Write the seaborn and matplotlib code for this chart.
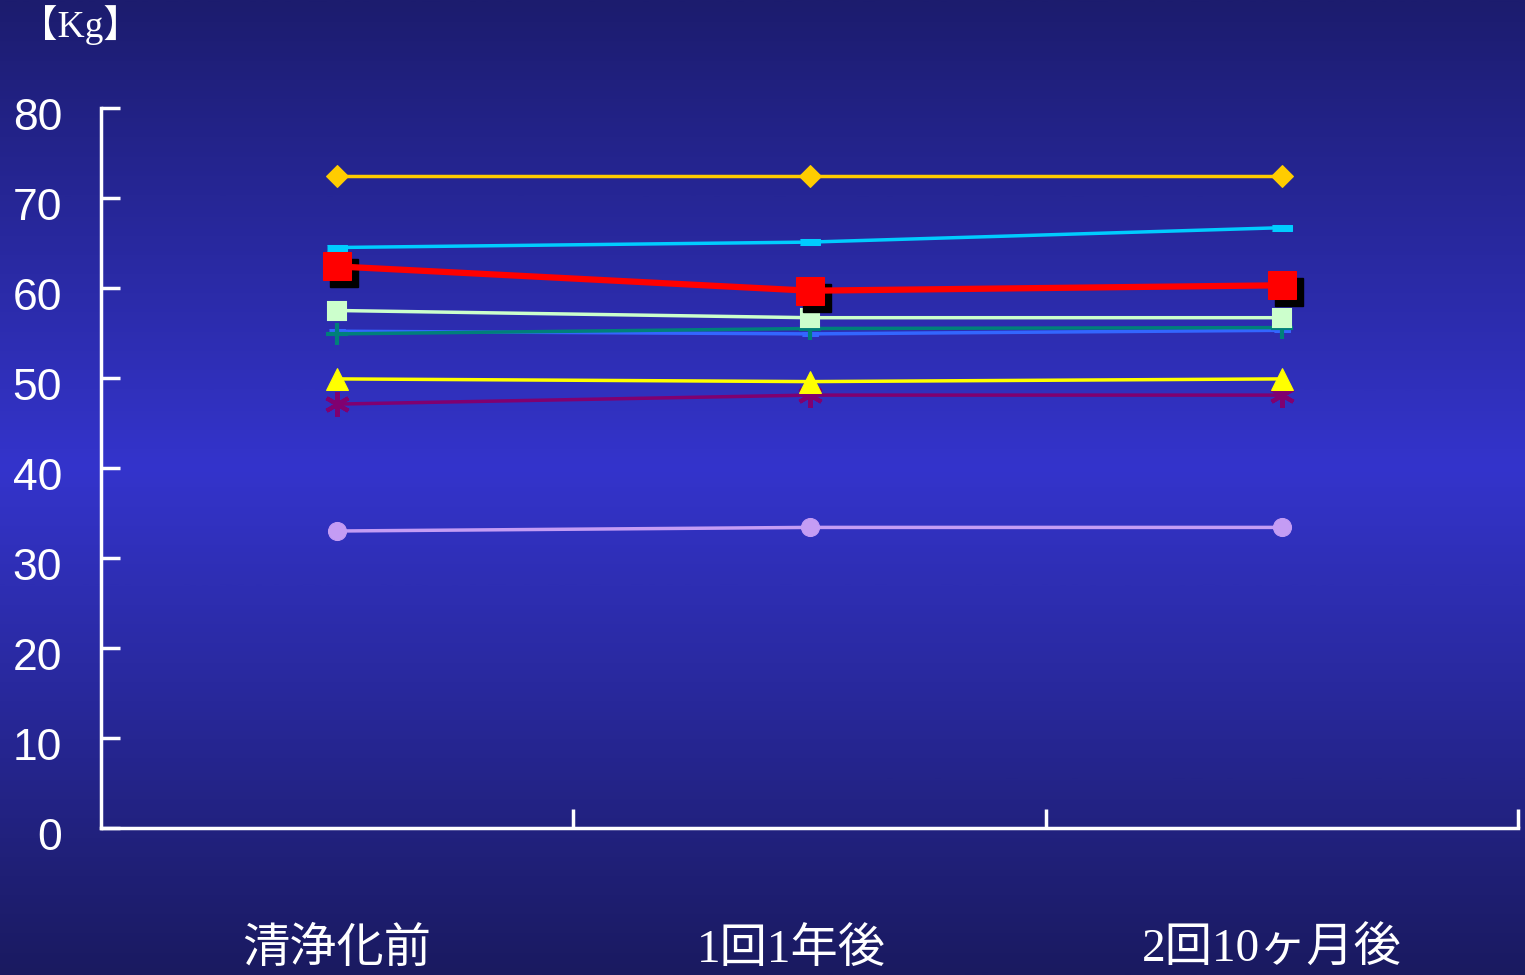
import numpy as np
import matplotlib
matplotlib.use("Agg")
import matplotlib.pyplot as plt
from matplotlib.colors import LinearSegmentedColormap
from matplotlib.transforms import offset_copy, ScaledTranslation
import seaborn as sns

# ---- data -------------------------------------------------------------
periods = ["清浄化前", "1回1年後", "2回10ヶ月後"]
y_ticks = [0, 10, 20, 30, 40, 50, 60, 70, 80]

weight_gold = [72.5, 72.5, 72.5]
weight_cyan = [64.5, 65.1, 66.7]
weight_red = [62.4, 59.7, 60.3]
weight_mint = [57.5, 56.7, 56.7]
weight_blue = [55.2, 54.9, 55.3]
weight_teal = [54.9, 55.5, 55.6]
weight_yellow = [49.9, 49.6, 49.9]
weight_purple = [47.1, 48.1, 48.1]
weight_lavender = [33.0, 33.4, 33.4]

sns.set_theme(style="white")
plt.rcParams["font.family"] = ["Liberation Sans", "Noto Sans CJK JP", "DejaVu Sans"]

fig = plt.figure(figsize=(15.25, 9.75), dpi=100)

# vertical gradient backdrop
bg = fig.add_axes([0, 0, 1, 1], zorder=-10)
grad_cmap = LinearSegmentedColormap.from_list(
    "backdrop",
    [(0.0, "#1c1c6e"), (0.48, "#3434cc"), (1.0, "#1a1a60")],
)
bg.imshow(np.linspace(0, 1, 512).reshape(-1, 1), aspect="auto", cmap=grad_cmap,
          extent=[0, 1, 0, 1], origin="upper")
bg.set_axis_off()

ax = fig.add_axes([101 / 1525, 147 / 975, 1417 / 1525, 720 / 975])
ax.set_facecolor("none")

x = np.arange(len(periods))

bar_marker = [(-1.7, -0.5), (1.7, -0.5), (1.7, 0.5), (-1.7, 0.5)]

series = [
    (weight_lavender, dict(color="#c49cf4", marker="o", markersize=13, lw=2.5)),
    (weight_purple, dict(color="#800070", marker=(6, 2, 0), markersize=18,
                         markeredgewidth=3, lw=2.5)),
    (weight_yellow, dict(color="#ffff00", marker="^", markersize=16, lw=2.5)),
    (weight_blue, dict(color="#3366ff", marker=bar_marker, markersize=12, lw=2.5)),
    (weight_teal, dict(color="#00807a", marker="+", markersize=16,
                       markeredgewidth=3, lw=2.5)),
    (weight_mint, dict(color="#ccffcc", marker="s", markersize=13, lw=2.5,
                       markeredgecolor="#ccffcc", markeredgewidth=1.5)),
    (weight_cyan, dict(color="#00ccff", marker=bar_marker, markersize=15, lw=2.5)),
    (weight_gold, dict(color="#ffcc00", marker="D", markersize=11, lw=2.5)),
]

for vals, style in series:
    sns.lineplot(x=x, y=vals, ax=ax, markeredgecolor=style.pop("markeredgecolor", style["color"]),
                 **style)

# drop-shadow squares behind the highlighted series
shadow = offset_copy(ax.transData, fig=fig, x=7, y=-7, units="dots")
ax.plot(x, weight_red, linestyle="none", marker="s", markersize=20,
        color="black", transform=shadow, zorder=5)
sns.lineplot(x=x, y=weight_red, ax=ax, color="#ff0000", lw=4.5, marker="s",
             markersize=20, markeredgecolor="#ff0000", zorder=6)

ax.set_xlim(-0.5, 2.5)
ax.set_ylim(0, 80)
ax.set_yticks(y_ticks)
ax.set_yticklabels([str(v) for v in y_ticks])

# category boundaries as tick marks, labels centred on categories
ax.set_xticks([0.5, 1.5, 2.5])
ax.set_xticklabels([])
ax.set_xticks(x, minor=True)
ax.set_xticklabels(periods, minor=True,
                   family=["Liberation Serif", "Noto Sans CJK JP"])
ax.tick_params(axis="x", which="minor", length=0, pad=72, labelsize=34,
               labelcolor="white", bottom=True)
ax.tick_params(axis="x", which="major", direction="in", length=14, width=2.5,
               color="white", bottom=True)
ax.tick_params(axis="y", direction="in", length=14, width=2.5, color="white",
               labelsize=32, labelcolor="white", pad=28, left=True)

shift_down = ScaledTranslation(0, -4 / 72, fig.dpi_scale_trans)
for lab in ax.get_yticklabels():
    lab.set_transform(lab.get_transform() + shift_down)

# nudge the later period labels slightly left
for lab, dx in zip(ax.get_xticklabels(minor=True), [0, -18, -10]):
    lab.set_transform(lab.get_transform()
                      + ScaledTranslation(dx / 100, 0, fig.dpi_scale_trans))

for side in ("top", "right"):
    ax.spines[side].set_visible(False)
for side in ("left", "bottom"):
    ax.spines[side].set_color("white")
    ax.spines[side].set_linewidth(2.5)
ax.set_xlabel("")
ax.set_ylabel("")
ax.grid(False)

fig.text(80 / 1525, 1 - 25 / 975, "【Kg】", color="white", fontsize=27,
         family=["Liberation Serif", "Noto Sans CJK JP"], ha="center", va="center")

fig.savefig("out.png", dpi=100)
